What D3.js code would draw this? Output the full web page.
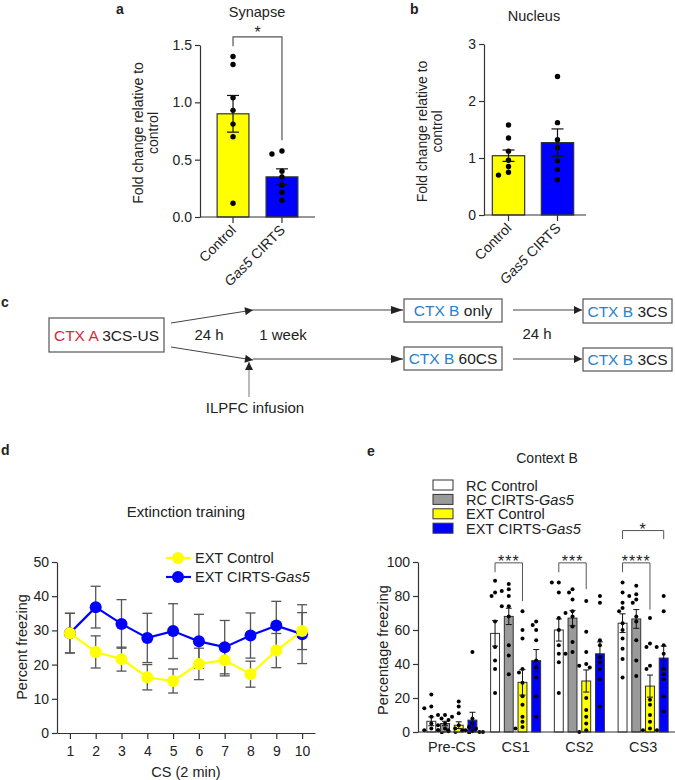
<!DOCTYPE html>
<meta charset="utf-8">
<style>
  body { margin: 0; background: #fff; }
  svg text { font-family: "Liberation Sans", Arial, sans-serif; fill: #222; }
</style>
<script src="https://cdn.jsdelivr.net/npm/d3@7/dist/d3.min.js"></script>
<svg width="675" height="780"></svg>
<script>
// ---- panel a : synapse ----
var barGroups = ["Control", "Gas5 CIRTS"];
var synMean = [0.90, 0.35];
var synSem = [0.16, 0.07];
var synCtrl = [1.40, 1.33, 1.04, 0.93, 0.81, 0.70, 0.12];
var synGas5 = [0.575, 0.55, 0.40, 0.35, 0.28, 0.215, 0.145];
var synTicks = [0, 0.5, 1.0, 1.5];

// ---- panel b : nucleus ----
var nucMean = [1.04, 1.27];
var nucSem = [0.10, 0.24];
var nucCtrl = [1.58, 1.35, 1.12, 0.96, 0.85, 0.75, 0.70];
var nucGas5 = [2.43, 1.62, 1.32, 1.18, 0.95, 0.80, 0.62];
var nucTicks = [0, 1, 2, 3];

// ---- panel d : extinction training ----
var csSteps = [1, 2, 3, 4, 5, 6, 7, 8, 9, 10];
var extCtrl = [29.2, 23.7, 21.6, 16.3, 15.2, 20.2, 21.3, 17.2, 24.1, 29.8];
var extCtrlSem = [5.8, 4.7, 3.5, 3.7, 3.5, 4.6, 4.6, 3.8, 5.0, 5.4];
var extGas5 = [29.2, 36.8, 31.9, 27.8, 29.8, 26.8, 25.1, 28.5, 31.4, 28.9];
var extGas5Sem = [5.8, 6.1, 7.1, 7.2, 8.0, 7.9, 7.8, 6.6, 7.1, 8.6];

// ---- panel e : context B ----
var phases = ["Pre-CS", "CS1", "CS2", "CS3"];
var eSeries = ["RC Control", "RC CIRTS-Gas5", "EXT Control", "EXT CIRTS-Gas5"];
var rcCtrlMean = [6.3, 58, 60, 64];
var rcCtrlSem = [2.6, 7.5, 6.5, 5.5];
var rcGas5Mean = [5.0, 68, 67, 66.5];
var rcGas5Sem = [1.3, 4.8, 4.5, 5.5];
var extCtrlMean = [4.0, 29.2, 30, 27];
var extCtrlSemE = [2.0, 7.5, 6.5, 6.5];
var extGas5Mean = [7.0, 42, 46, 43.5];
var extGas5SemE = [4.6, 6.5, 7.0, 7.0];
var rcCtrlPts = [[22, 15, 14, 9, 5, 2, 1, 1, 0.5, 0, 0],
                 [89, 82, 80, 65, 50, 42, 37, 23],
                 [88, 88, 82, 67, 60, 51, 46, 41, 23],
                 [88, 82, 76, 73, 71, 64, 60, 55, 49, 43, 32]];
var rcGas5Pts = [[10, 10, 9, 8, 7, 5, 4, 2, 1, 0.5, 0],
                 [87, 84, 83, 80, 74, 74, 68, 51, 45, 34],
                 [84, 82, 78, 71, 70, 68, 62, 53, 47, 46],
                 [86, 81, 80, 78, 76, 68, 65, 54, 42, 33]];
var extCtrlPts = [[18, 15, 11, 4, 2, 1, 1, 0.5, 0, 0, 0, 0],
                  [71, 60, 55, 37, 35, 29, 21, 16, 9, 6, 3, 2],
                  [77, 59, 47, 40, 39, 38, 20, 13, 9, 5, 1, 0],
                  [67, 52, 50, 39, 37, 19, 16, 10, 6, 2, 1, 1]];
var extGas5Pts = [[47, 8, 5, 3, 2, 1, 0.5, 0, 0],
                  [65, 63, 60, 54, 42, 38, 32, 21, 9],
                  [80, 76, 54, 51, 44, 41, 37, 31, 15],
                  [80, 71, 51, 50, 46, 37, 34, 31, 21, 12]];
var eTicks = [0, 20, 40, 60, 80, 100];

var YEL = "#ffff00", BLU = "#0000ff", GRY = "#9a9a9a";
var svg = d3.select("svg");

function letter(x, y, t) {
  svg.append("text").attr("x", x).attr("y", y).attr("font-size", 14)
    .attr("font-weight", "bold").text(t);
}

// place dots so they don't overlap (small beeswarm)
function swarm(vals, y, cx, r, step) {
  var placed = [];
  vals.slice().sort(function (a, b) { return b - a; }).forEach(function (v) {
    var py = y(v), offs = [0, -step, step, -2 * step, 2 * step, -3 * step, 3 * step];
    for (var k = 0; k < offs.length; k++) {
      var px = cx + offs[k];
      var hit = placed.some(function (p) { return Math.hypot(p.x - px, p.y - py) < 2 * r; });
      if (!hit || k === offs.length - 1) { placed.push({ x: px, y: py }); break; }
    }
  });
  return placed;
}

function yAxisLeft(g, y, ticks, fmt, fs) {
  var ax = g.append("g").call(d3.axisLeft(y).tickValues(ticks).tickFormat(fmt).tickSize(5).tickSizeOuter(0));
  ax.select(".domain").attr("stroke", "#333").attr("stroke-width", 1.2);
  ax.selectAll("line").attr("stroke", "#333").attr("stroke-width", 1.2);
  ax.selectAll("text").attr("font-size", fs).attr("fill", "#222")
    .style("font-family", '"Liberation Sans", Arial, sans-serif');
  return ax;
}

function rotLabel(g, x, yMid, lines, fs) {
  var t = g.append("text").attr("transform", "translate(" + x + "," + yMid + ") rotate(-90)")
    .attr("text-anchor", "middle").attr("font-size", fs);
  lines.forEach(function (l, i) {
    t.append("tspan").attr("x", 0).attr("dy", i ? fs + 1 : 0).text(l);
  });
}

// ---------- bar panels a & b ----------
function barPanel(cfg) {
  var g = svg.append("g");
  var y = d3.scaleLinear().domain(cfg.domain).range([cfg.y0, cfg.y1]);
  var x = d3.scaleBand().domain(barGroups).range([cfg.x0, cfg.x1])
    .paddingInner(cfg.pi).paddingOuter(cfg.po);
  var fills = [YEL, BLU];
  g.selectAll("rect.bar").data(cfg.mean).enter().append("rect")
    .attr("x", function (d, i) { return x(barGroups[i]); })
    .attr("y", function (d) { return y(d); })
    .attr("width", x.bandwidth())
    .attr("height", function (d) { return y(0) - y(d); })
    .attr("fill", function (d, i) { return fills[i]; })
    .attr("stroke", "#333").attr("stroke-width", 1.2);
  // points
  [cfg.ctrl, cfg.gas5].forEach(function (pts, i) {
    var cx = x(barGroups[i]) + x.bandwidth() / 2;
    g.selectAll(null).data(swarm(pts, y, cx, 2.7, 10)).enter().append("circle")
      .attr("cx", function (d) { return d.x; }).attr("cy", function (d) { return d.y; })
      .attr("r", 2.7).attr("fill", "#000");
  });
  // error bars
  cfg.mean.forEach(function (m, i) {
    var cx = x(barGroups[i]) + x.bandwidth() / 2, s = cfg.sem[i];
    var eb = g.append("g").attr("stroke", "#111").attr("stroke-width", 1.2);
    eb.append("line").attr("x1", cx).attr("x2", cx).attr("y1", y(m - s)).attr("y2", y(m + s));
    eb.append("line").attr("x1", cx - 6).attr("x2", cx + 6).attr("y1", y(m + s)).attr("y2", y(m + s));
    eb.append("line").attr("x1", cx - 6).attr("x2", cx + 6).attr("y1", y(m - s)).attr("y2", y(m - s));
  });
  // axes
  yAxisLeft(g.append("g").attr("transform", "translate(" + cfg.x0 + ",0)"), y, cfg.ticks, cfg.fmt, 14);
  var xa = g.append("g").attr("transform", "translate(0," + y(0) + ")")
    .call(d3.axisBottom(x).tickSize(6).tickSizeOuter(0).tickFormat(""));
  xa.select(".domain").attr("stroke", "#333").attr("stroke-width", 1.2)
    .attr("d", "M" + cfg.x0 + ",0H" + cfg.xEnd);
  xa.selectAll("line").attr("stroke", "#333").attr("stroke-width", 1.2);
  barGroups.forEach(function (name, i) {
    var cx = x(name) + x.bandwidth() / 2;
    var t = g.append("text").attr("text-anchor", "end").attr("font-size", 14)
      .attr("transform", "translate(" + (cx + 4) + "," + (y(0) + 14) + ") rotate(-45)");
    if (name === "Gas5 CIRTS") {
      t.append("tspan").attr("font-style", "italic").text("Gas5");
      t.append("tspan").text(" CIRTS");
    } else t.text(name);
  });
  rotLabel(g, cfg.labX, (cfg.y0 + cfg.y1) / 2 + 2, ["Fold change relative to", "control"], 14);
  g.append("text").attr("x", cfg.titleX).attr("y", cfg.titleY).attr("text-anchor", "middle")
    .attr("font-size", 14.5).text(cfg.title);
  return { g: g, x: x, y: y };
}

letter(116, 14, "a");
var pa = barPanel({
  domain: [0, 1.5], y0: 217, y1: 45, x0: 200, x1: 315, xEnd: 315, pi: 0.35, po: 0.35,
  mean: synMean, sem: synSem, ctrl: synCtrl, gas5: synGas5, ticks: synTicks,
  fmt: d3.format(".1f"), labX: 143, title: "Synapse", titleX: 257, titleY: 17
});
// significance bracket
(function () {
  var cxa = pa.x("Control") + pa.x.bandwidth() / 2, cxb = pa.x("Gas5 CIRTS") + pa.x.bandwidth() / 2;
  var yb = pa.y(1.57);
  pa.g.append("path").attr("fill", "none").attr("stroke", "#555").attr("stroke-width", 1.2)
    .attr("d", "M" + cxa + "," + pa.y(1.49) + "V" + yb + "H" + cxb + "V" + pa.y(0.67));
  pa.g.append("text").attr("x", (cxa + cxb) / 2).attr("y", yb + 1).attr("text-anchor", "middle")
    .attr("font-size", 16).text("*");
})();

letter(410, 14, "b");
barPanel({
  domain: [0, 3], y0: 215, y1: 44, x0: 484, x1: 582, xEnd: 586, pi: 0.34, po: 0.17,
  mean: nucMean, sem: nucSem, ctrl: nucCtrl, gas5: nucGas5, ticks: nucTicks,
  fmt: d3.format("d"), labX: 427, title: "Nucleus", titleX: 534, titleY: 21
});

// ---------- panel c : schematic ----------
letter(1, 307, "c");
(function () {
  var g = svg.append("g");
  g.append("defs").append("marker").attr("id", "ah").attr("viewBox", "0 0 10 10")
    .attr("refX", 10).attr("refY", 5).attr("markerWidth", 11).attr("markerHeight", 8)
    .attr("markerUnits", "userSpaceOnUse").attr("orient", "auto")
    .append("path").attr("d", "M0,0L10,5L0,10z").attr("fill", "#222");
  var RED = "#d42a3d", CBL = "#2b80c8";
  var boxes = [
    { x: 49, y: 318, w: 115, h: 34, a: "CTX A", b: " 3CS-US", c: RED },
    { x: 404, y: 299, w: 98, h: 23, a: "CTX B", b: " only", c: CBL },
    { x: 404, y: 347, w: 98, h: 23, a: "CTX B", b: " 60CS", c: CBL },
    { x: 583, y: 299, w: 89, h: 24, a: "CTX B", b: " 3CS", c: CBL },
    { x: 583, y: 348, w: 89, h: 23, a: "CTX B", b: " 3CS", c: CBL }
  ];
  boxes.forEach(function (b) {
    g.append("rect").attr("x", b.x).attr("y", b.y).attr("width", b.w).attr("height", b.h)
      .attr("fill", "#fff").attr("stroke", "#555").attr("stroke-width", 1.2);
    var t = g.append("text").attr("x", b.x + b.w / 2).attr("y", b.y + b.h / 2 + 5.5)
      .attr("text-anchor", "middle").attr("font-size", 15.5);
    t.append("tspan").attr("fill", b.c).text(b.a);
    t.append("tspan").text(b.b);
  });
  var arrows = [
    [171, 323, 253, 310], [171, 347, 253, 360],
    [253, 310, 403, 310], [253, 359, 403, 359],
    [513, 310, 582, 310], [513, 359, 582, 359],
    [249, 397, 249, 362]
  ];
  arrows.forEach(function (a, i) {
    g.append("line").attr("x1", a[0]).attr("y1", a[1]).attr("x2", a[2]).attr("y2", a[3])
      .attr("stroke", i === 6 ? "#777" : "#444").attr("stroke-width", 1)
      .attr("marker-end", (i === 2 || i === 3) ? null : "url(#ah)");
  });
  // arrowheads at ends of the long horizontals
  [[403, 310], [403, 359]].forEach(function (p) {
    g.append("path").attr("d", "M" + (p[0] - 12) + "," + (p[1] - 4) + "L" + p[0] + "," + p[1] + "L" + (p[0] - 12) + "," + (p[1] + 4) + "z").attr("fill", "#222");
  });
  [["24 h", 209, 340], ["1 week", 283, 340], ["24 h", 537, 339], ["ILPFC infusion", 255, 413]].forEach(function (t) {
    g.append("text").attr("x", t[1]).attr("y", t[2]).attr("text-anchor", "middle")
      .attr("font-size", 15).text(t[0]);
  });
})();

// ---------- panel d : line chart ----------
letter(1, 455, "d");
(function () {
  var g = svg.append("g");
  var x = d3.scaleLinear().domain([0.5, 10.5]).range([57, 315]);
  var y = d3.scaleLinear().domain([0, 50]).range([733, 562]);
  yAxisLeft(g.append("g").attr("transform", "translate(57,0)"), y, [0, 10, 20, 30, 40, 50], d3.format("d"), 14);
  var xa = g.append("g").attr("transform", "translate(0," + y(0) + ")")
    .call(d3.axisBottom(x).tickValues(csSteps).tickFormat(d3.format("d")).tickSize(6).tickSizeOuter(0));
  xa.select(".domain").attr("stroke", "#333").attr("stroke-width", 1.2);
  xa.selectAll("line").attr("stroke", "#333").attr("stroke-width", 1.2);
  xa.selectAll("text").attr("font-size", 14).attr("fill", "#222").attr("dy", "1em")
    .style("font-family", '"Liberation Sans", Arial, sans-serif');
  g.append("text").attr("x", 186).attr("y", 777).attr("text-anchor", "middle").attr("font-size", 14.5).text("CS (2 min)");
  rotLabel(g, 27, 647, ["Percent freezing"], 14.5);
  g.append("text").attr("x", 186).attr("y", 517).attr("text-anchor", "middle").attr("font-size", 15).text("Extinction training");

  var series = [
    { m: extGas5, s: extGas5Sem, c: BLU },
    { m: extCtrl, s: extCtrlSem, c: YEL }
  ];
  series.forEach(function (sr) {
    sr.m.forEach(function (v, i) {
      var cx = x(csSteps[i]);
      var eb = g.append("g").attr("stroke", "#555").attr("stroke-width", 1.3);
      eb.append("line").attr("x1", cx).attr("x2", cx).attr("y1", y(v - sr.s[i])).attr("y2", y(v + sr.s[i]));
      eb.append("line").attr("x1", cx - 5).attr("x2", cx + 5).attr("y1", y(v + sr.s[i])).attr("y2", y(v + sr.s[i]));
      eb.append("line").attr("x1", cx - 5).attr("x2", cx + 5).attr("y1", y(v - sr.s[i])).attr("y2", y(v - sr.s[i]));
    });
  });
  var line = d3.line().x(function (d, i) { return x(csSteps[i]); }).y(function (d) { return y(d); });
  series.forEach(function (sr) {
    g.append("path").datum(sr.m).attr("d", line).attr("fill", "none").attr("stroke", sr.c).attr("stroke-width", 2.2);
    g.selectAll(null).data(sr.m).enter().append("circle")
      .attr("cx", function (d, i) { return x(csSteps[i]); }).attr("cy", function (d) { return y(d); })
      .attr("r", 6).attr("fill", sr.c);
  });
  // legend
  [["EXT Control", YEL, 558], ["EXT CIRTS-", BLU, 577]].forEach(function (l, i) {
    g.append("line").attr("x1", 166).attr("x2", 191).attr("y1", l[2]).attr("y2", l[2]).attr("stroke", l[1]).attr("stroke-width", 2.2);
    g.append("circle").attr("cx", 178).attr("cy", l[2]).attr("r", 6).attr("fill", l[1]);
    var t = g.append("text").attr("x", 195).attr("y", l[2] + 5).attr("font-size", 14.5).text(l[0]);
    if (i === 1) t.append("tspan").attr("font-style", "italic").text("Gas5");
  });
})();

// ---------- panel e : grouped bars ----------
letter(367, 456, "e");
(function () {
  var g = svg.append("g");
  var y = d3.scaleLinear().domain([0, 100]).range([732, 562]);
  var x0 = d3.scaleBand().domain(phases).range([420, 675]);
  var x1 = d3.scaleBand().domain(eSeries).range([0, x0.bandwidth()]).paddingInner(0.35).paddingOuter(0.5);
  var means = [rcCtrlMean, rcGas5Mean, extCtrlMean, extGas5Mean];
  var sems = [rcCtrlSem, rcGas5Sem, extCtrlSemE, extGas5SemE];
  var pts = [rcCtrlPts, rcGas5Pts, extCtrlPts, extGas5Pts];
  var fills = ["#fff", GRY, YEL, BLU];
  eSeries.forEach(function (s, si) {
    phases.forEach(function (p, pi) {
      var bx = x0(p) + x1(s), bw = x1.bandwidth(), cx = bx + bw / 2, m = means[si][pi], e = sems[si][pi];
      g.append("rect").attr("x", bx).attr("y", y(m)).attr("width", bw).attr("height", y(0) - y(m))
        .attr("fill", fills[si]).attr("stroke", "#333").attr("stroke-width", 1);
      g.selectAll(null).data(swarm(pts[si][pi], y, cx, 2, 3.5)).enter().append("circle")
        .attr("cx", function (d) { return d.x; }).attr("cy", function (d) { return d.y; })
        .attr("r", 2).attr("fill", "#000");
      var eb = g.append("g").attr("stroke", "#111").attr("stroke-width", 1);
      eb.append("line").attr("x1", cx).attr("x2", cx).attr("y1", y(Math.max(0, m - e))).attr("y2", y(m + e));
      eb.append("line").attr("x1", cx - 3).attr("x2", cx + 3).attr("y1", y(m + e)).attr("y2", y(m + e));
      if (m - e > 0) eb.append("line").attr("x1", cx - 3).attr("x2", cx + 3).attr("y1", y(m - e)).attr("y2", y(m - e));
    });
  });
  yAxisLeft(g.append("g").attr("transform", "translate(418,0)"), y, eTicks, d3.format("d"), 14);
  g.append("line").attr("x1", 418).attr("x2", 675).attr("y1", y(0)).attr("y2", y(0)).attr("stroke", "#333").attr("stroke-width", 1.2);
  phases.forEach(function (p) {
    g.append("text").attr("x", x0(p) + x0.bandwidth() / 2).attr("y", 752).attr("text-anchor", "middle")
      .attr("font-size", 14.5).text(p);
  });
  rotLabel(g, 388, 650, ["Percentage freezing"], 14.5);
  g.append("text").attr("x", 547).attr("y", 463).attr("text-anchor", "middle").attr("font-size", 14).text("Context B");

  // legend (tight rows, as in the original figure)
  eSeries.forEach(function (s, i) {
    var ly = 485 + i * 14.4;
    g.append("rect").attr("x", 433).attr("y", ly - 5).attr("width", 20).attr("height", 10)
      .attr("fill", fills[i]).attr("stroke", "#333").attr("stroke-width", 1);
    var t = g.append("text").attr("x", 466).attr("y", ly + 5.5).attr("font-size", 14.5);
    if (s.indexOf("Gas5") > 0) {
      t.text(s.replace("Gas5", ""));
      t.append("tspan").attr("font-style", "italic").text("Gas5");
    } else t.text(s);
  });

  // significance brackets
  function bracket(pa, sa, pb, sb, yTop, yLeft, yRight, label) {
    var xa = x0(pa) + x1(sa) + x1.bandwidth() / 2, xb = x0(pb) + x1(sb) + x1.bandwidth() / 2;
    g.append("path").attr("fill", "none").attr("stroke", "#555").attr("stroke-width", 1)
      .attr("d", "M" + xa + "," + y(yLeft) + "V" + y(yTop) + "H" + xb + "V" + y(yRight));
    g.append("text").attr("x", (xa + xb) / 2).attr("y", y(yTop) + 4).attr("text-anchor", "middle")
      .attr("font-size", 16).attr("letter-spacing", 1).text(label);
  }
  bracket("CS1", "RC Control", "CS1", "EXT Control", 99.5, 94, 77, "***");
  bracket("CS2", "RC Control", "CS2", "EXT Control", 99.5, 94, 84, "***");
  bracket("CS3", "RC Control", "CS3", "EXT Control", 99.5, 94, 72, "****");
  bracket("CS3", "RC Control", "CS3", "EXT CIRTS-Gas5", 118.5, 113.5, 113.5, "*");
})();
</script>
